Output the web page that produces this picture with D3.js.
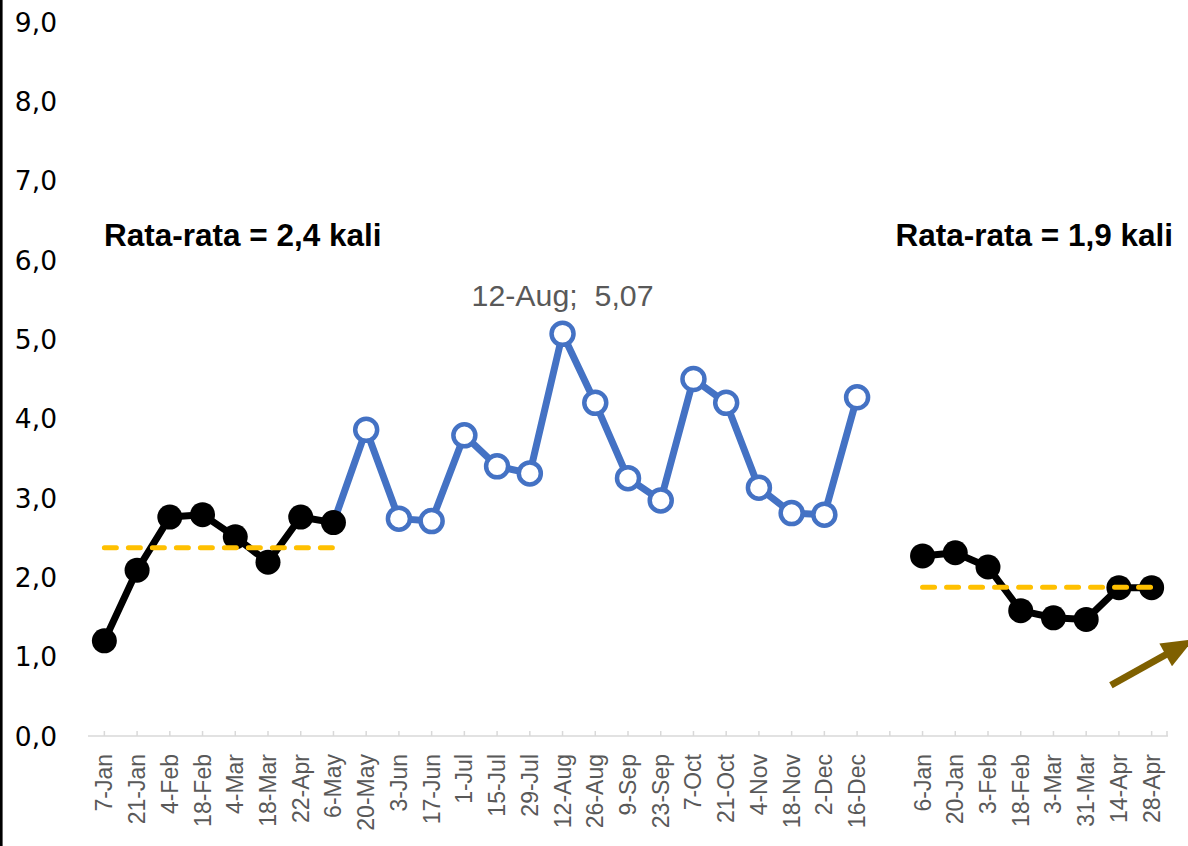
<!DOCTYPE html>
<html>
<head>
<meta charset="utf-8">
<script src="https://cdn.jsdelivr.net/npm/d3@7"></script>
<style>
  html, body { margin: 0; padding: 0; background: #ffffff; }
  svg { display: block; }
</style>
</head>
<body>
<svg id="chart" width="1188" height="846"></svg>
<script>
// Fortnightly dates on the category axis; the blank slot separates the two years.
const categories = [
  "7-Jan", "21-Jan", "4-Feb", "18-Feb", "4-Mar", "18-Mar", "22-Apr", "6-May",
  "20-May", "3-Jun", "17-Jun", "1-Jul", "15-Jul", "29-Jul", "12-Aug", "26-Aug",
  "9-Sep", "23-Sep", "7-Oct", "21-Oct", "4-Nov", "18-Nov", "2-Dec", "16-Dec",
  "",
  "6-Jan", "20-Jan", "3-Feb", "18-Feb", "3-Mar", "31-Mar", "14-Apr", "28-Apr"
];

// Baseline period (first 8 dates)
const baselineValues = [1.20, 2.09, 2.76, 2.79, 2.51, 2.19, 2.76, 2.69];
// Following period, drawn in blue (20-May .. 16-Dec)
const blueValues = [3.86, 2.74, 2.71, 3.79, 3.40, 3.31, 5.07, 4.20,
                    3.25, 2.97, 4.50, 4.20, 3.13, 2.81, 2.79, 4.27];
// Second year (6-Jan .. 28-Apr)
const recentValues = [2.27, 2.31, 2.13, 1.58, 1.49, 1.47, 1.87, 1.87];

const yTicks = [0, 1, 2, 3, 4, 5, 6, 7, 8, 9];

const baselineStart = 0;
const blueStart = baselineStart + baselineValues.length;   // 8
const recentStart = categories.indexOf("6-Jan");           // 25

const svg = d3.select("#chart");

const x = d3.scalePoint()
  .domain(d3.range(categories.length))
  .range([88, 1168])
  .padding(0.5);

const y = d3.scaleLinear().domain([0, 9]).range([736, 22]);

const locale = d3.formatLocale({ decimal: ",", thousands: ".", grouping: [3], currency: ["", ""] });
const fmt1 = locale.format(".1f");
const fmt2 = locale.format(".2f");

// Left frame line
svg.append("line")
  .attr("x1", 1.3).attr("x2", 1.3).attr("y1", 0).attr("y2", 846)
  .attr("stroke", "#000").attr("stroke-width", 2.6);

// Y tick labels
svg.append("g").selectAll("text").data(yTicks).join("text")
  .attr("x", 57)
  .attr("y", d => y(d))
  .attr("dy", "0.37em")
  .attr("text-anchor", "end")
  .attr("font-family", "DejaVu Sans, sans-serif")
  .attr("font-size", 26.5)
  .attr("fill", "#000")
  .text(d => fmt1(d));

// X axis
const xAxis = svg.append("g");
xAxis.append("line")
  .attr("x1", 88).attr("x2", 1168).attr("y1", 736).attr("y2", 736)
  .attr("stroke", "#d9d9d9").attr("stroke-width", 1.5);
const tickPositions = d3.range(categories.length).map(i => x(i)).concat([1167]);
xAxis.selectAll("line.tick").data(tickPositions).join("line")
  .attr("class", "tick")
  .attr("x1", d => d).attr("x2", d => d)
  .attr("y1", 736).attr("y2", 731)
  .attr("stroke", "#d9d9d9").attr("stroke-width", 1.5);
xAxis.selectAll("text").data(categories.map((c, i) => ({ c, i })).filter(d => d.c !== ""))
  .join("text")
  .attr("transform", d => `translate(${x(d.i) + 8},754) rotate(-90)`)
  .attr("text-anchor", "end")
  .attr("font-family", "Liberation Sans, Arial, sans-serif")
  .attr("font-size", 23)
  .attr("fill", "#595959")
  .text(d => d.c);

// Blue segment, joined to the last baseline point
const blueData = [{ i: blueStart - 1, v: baselineValues[baselineValues.length - 1] }]
  .concat(blueValues.map((v, k) => ({ i: blueStart + k, v })));
const line = d3.line().x(d => x(d.i)).y(d => y(d.v));

svg.append("path")
  .datum(blueData)
  .attr("d", line)
  .attr("fill", "none")
  .attr("stroke", "#4472C4")
  .attr("stroke-width", 7)
  .attr("stroke-linejoin", "round");

svg.append("g").selectAll("circle").data(blueData.slice(1)).join("circle")
  .attr("cx", d => x(d.i)).attr("cy", d => y(d.v))
  .attr("r", 11)
  .attr("fill", "#fff")
  .attr("stroke", "#4472C4")
  .attr("stroke-width", 4.5);

// Black series (baseline and second year)
const blackSets = [
  baselineValues.map((v, k) => ({ i: baselineStart + k, v })),
  recentValues.map((v, k) => ({ i: recentStart + k, v }))
];
blackSets.forEach(set => {
  svg.append("path")
    .datum(set)
    .attr("d", line)
    .attr("fill", "none")
    .attr("stroke", "#000")
    .attr("stroke-width", 7)
    .attr("stroke-linejoin", "round");
  svg.append("g").selectAll("circle").data(set).join("circle")
    .attr("cx", d => x(d.i)).attr("cy", d => y(d.v))
    .attr("r", 12.5)
    .attr("fill", "#000");
});

// Mean lines and their labels
const means = blackSets.map(set => ({
  from: set[0].i, to: set[set.length - 1].i, m: d3.mean(set, d => d.v)
}));
means.forEach(d => {
  svg.append("line")
    .attr("x1", x(d.from)).attr("x2", x(d.to))
    .attr("y1", y(d.m)).attr("y2", y(d.m))
    .attr("stroke", "#FFC000")
    .attr("stroke-width", 5)
    .attr("stroke-linecap", "round")
    .attr("stroke-dasharray", "12 12");
});

svg.append("text")
  .attr("x", 104).attr("y", 246)
  .attr("font-family", "Liberation Sans, Arial, sans-serif")
  .attr("font-weight", "bold")
  .attr("font-size", 31.5)
  .attr("fill", "#000")
  .text(`Rata-rata = ${fmt1(means[0].m)} kali`);

svg.append("text")
  .attr("x", 1173).attr("y", 246)
  .attr("text-anchor", "end")
  .attr("font-family", "Liberation Sans, Arial, sans-serif")
  .attr("font-weight", "bold")
  .attr("font-size", 31.5)
  .attr("fill", "#000")
  .text(`Rata-rata = ${fmt1(means[1].m)} kali`);

// Peak label
const peak = blueData.slice(1).reduce((a, b) => (b.v > a.v ? b : a));
svg.append("text")
  .attr("x", x(peak.i)).attr("y", y(peak.v) - 28)
  .attr("text-anchor", "middle")
  .attr("font-family", "Liberation Sans, Arial, sans-serif")
  .attr("font-size", 30.3)
  .attr("fill", "#595959")
  .attr("xml:space", "preserve")
  .style("white-space", "pre")
  .text(`${categories[peak.i]};  ${fmt2(peak.v)}`);

// Trend arrow in the lower right corner
const arrowStart = [x(categories.length - 2) - 8, y(0.64)];
const arrowTip = [x(categories.length - 1) + 42, y(1.22)];
const ang = Math.atan2(arrowTip[1] - arrowStart[1], arrowTip[0] - arrowStart[0]);
const headLen = 32, headHalf = 13;
const base = [arrowTip[0] - headLen * Math.cos(ang), arrowTip[1] - headLen * Math.sin(ang)];
svg.append("line")
  .attr("x1", arrowStart[0]).attr("y1", arrowStart[1])
  .attr("x2", base[0] + 2 * Math.cos(ang)).attr("y2", base[1] + 2 * Math.sin(ang))
  .attr("stroke", "#7F6000").attr("stroke-width", 7);
svg.append("path")
  .attr("d", `M${arrowTip[0]},${arrowTip[1]}
    L${base[0] - headHalf * Math.sin(ang)},${base[1] + headHalf * Math.cos(ang)}
    L${base[0] + headHalf * Math.sin(ang)},${base[1] - headHalf * Math.cos(ang)}Z`)
  .attr("fill", "#7F6000");
</script>
</body>
</html>
